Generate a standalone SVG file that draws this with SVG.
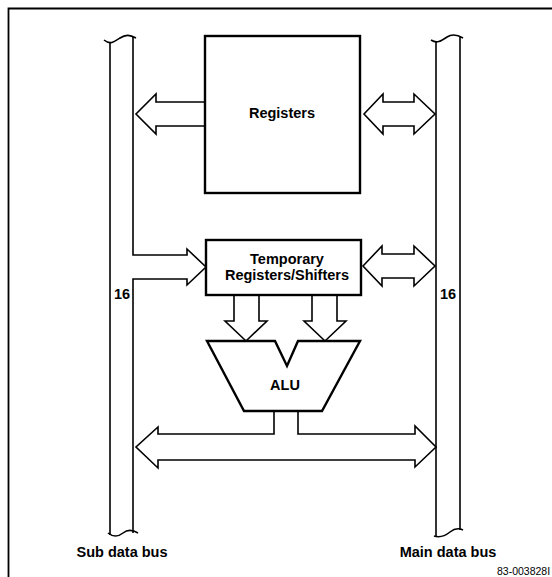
<svg xmlns="http://www.w3.org/2000/svg" width="552" height="577" viewBox="0 0 552 577">
<style>
.ln{fill:none;stroke:#000;stroke-width:1.6;stroke-linejoin:miter}
.ar{fill:#fff;stroke:#000;stroke-width:1.6;stroke-linejoin:miter}
.bx{fill:#fff;stroke:#000;stroke-width:2.4}
.t{font-family:"Liberation Sans",Arial,Helvetica,sans-serif;font-weight:bold;font-size:14.5px;fill:#000;text-anchor:middle}
.s{font-family:"Liberation Sans",Arial,sans-serif;font-size:10.5px;fill:#000}
</style>
<rect width="552" height="577" fill="#fff"/>
<path d="M8.5,577 V8.5 H552" fill="none" stroke="#000" stroke-width="1.8"/>
<g id="connectors">
<path class="ln" d="M133,37 V255 H187 V249 L206,267 L187,285 V279 H133 V533"/>
<path class="ar" d="M205,102 H156 V94 L136,114 L156,134 V126 H205"/>
<polygon class="ar" points="364,114 383,94 383,102 414,102 414,94 435,114 414,134 414,126 383,126 383,134"/>
<polygon class="ar" points="363,266 382,246 382,254 414,254 414,246 435,266 414,286 414,278 382,278 382,286"/>
<path class="ar" d="M234,295 V321 H225 L246,341 L267,321 H259 V295"/>
<path class="ar" d="M312,295 V321 H304 L325,341 L346,321 H337 V295"/>
<path class="ar" d="M274,411 V434 H158 V427 L136,447 L158,468 V460 H415 V467 L436,447 L415,426 V434 H298 V411"/>
</g>
<g id="sub-data-bus">
<path class="ln" d="M104,40 C110,45 114,42 120,38 C126,34 130,35 136,38"/>
<path class="ln" d="M110,42 V535"/>
<path class="ln" d="M108,533 C113,537 118,537 123,533 C128,529 133,530 138,533"/>
<text class="t" x="122" y="299">16</text>
<text class="t" x="122" y="557">Sub data bus</text>
</g>
<g id="main-data-bus">
<path class="ln" d="M431,40 C437,44 441,41 447,37 C453,33 458,35 463,38"/>
<path class="ln" d="M436,41 V537"/>
<path class="ln" d="M460,36 V530"/>
<path class="ln" d="M434,536 C440,538 445,536 450,532 C455,528 459,528 463,530"/>
<text class="t" x="448" y="299">16</text>
<text class="t" x="448" y="557">Main data bus</text>
</g>
<g id="registers">
<rect class="bx" x="205" y="36" width="155" height="157"/>
<text class="t" x="282" y="118">Registers</text>
</g>
<g id="temporary-registers">
<rect class="bx" x="206" y="240" width="155" height="55"/>
<text class="t" x="287" y="264">Temporary</text>
<text class="t" x="287" y="280">Registers/Shifters</text>
</g>
<g id="alu">
<polygon class="bx" points="207,341 275,341 287,366 298,341 360,341 322,411 244,411"/>
<text class="t" x="285" y="390">ALU</text>
</g>
<text class="s" x="497" y="575">83-003828I</text>
</svg>
